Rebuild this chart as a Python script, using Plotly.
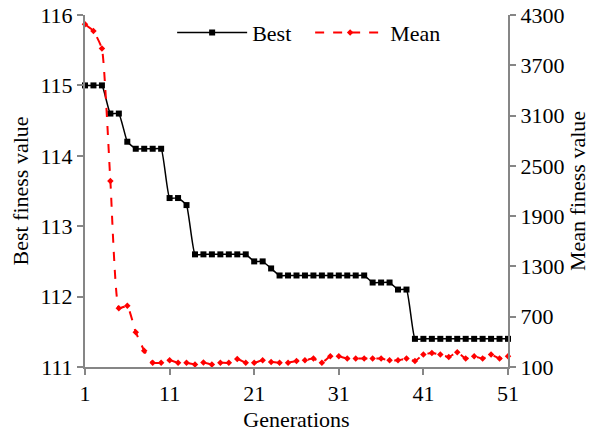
import plotly.graph_objects as go

generations = list(range(1, 52))
best = [115.0, 115.0, 115.0, 114.6, 114.6, 114.2, 114.1, 114.1, 114.1, 114.1,
        113.4, 113.4, 113.3, 112.6, 112.6, 112.6, 112.6, 112.6, 112.6, 112.6,
        112.5, 112.5, 112.4, 112.3, 112.3, 112.3, 112.3, 112.3, 112.3, 112.3,
        112.3, 112.3, 112.3, 112.3, 112.2, 112.2, 112.2, 112.1, 112.1, 111.4,
        111.4, 111.4, 111.4, 111.4, 111.4, 111.4, 111.4, 111.4, 111.4, 111.4, 111.4]
mean = [4190, 4110, 3900, 2320, 800, 830, 515, 295, 150, 150,
        180, 150, 150, 130, 155, 130, 150, 150, 195, 150,
        150, 180, 160, 150, 152, 172, 180, 200, 152, 228,
        228, 200, 200, 200, 200, 200, 180, 180, 200, 172,
        248, 268, 248, 220, 276, 200, 228, 200, 248, 200, 228]
x_ticks = [1, 11, 21, 31, 41, 51]
left_ticks = [111, 112, 113, 114, 115, 116]
right_ticks = [100, 700, 1300, 1900, 2500, 3100, 3700, 4300]

FONT = "Liberation Serif"
FS = 22
AX = "#868686"

fig = go.Figure()
fig.add_trace(go.Scatter(
    x=generations, y=best, name="Best", mode="lines+markers",
    line=dict(color="black", width=1.5, shape="spline", smoothing=0.4),
    marker=dict(symbol="square", size=6, color="black"),
    cliponaxis=False, yaxis="y"))
fig.add_trace(go.Scatter(
    x=generations, y=mean, name="Mean", mode="lines+markers",
    line=dict(color="#ff0000", width=2, dash="dash", shape="spline", smoothing=0.4),
    marker=dict(symbol="diamond", size=5, color="#ff0000"),
    cliponaxis=False, yaxis="y2"))

common = dict(showgrid=False, zeroline=False, showline=True, linecolor=AX, linewidth=2,
              ticks="outside", tickcolor=AX, ticklen=6, tickwidth=2,
              ticklabeloverflow="allow", automargin=False,
              tickfont=dict(family=FONT, size=FS, color="black"))

fig.update_layout(
    width=600, height=441,
    margin=dict(l=85, r=92, t=15, b=74),
    plot_bgcolor="white", paper_bgcolor="white",
    font=dict(family=FONT, size=FS, color="black"),
    xaxis=dict(range=[1, 51], tickvals=x_ticks,
               title=dict(text="Generations", font=dict(family=FONT, size=FS), standoff=6),
               **common),
    yaxis=dict(range=[111, 116], tickvals=left_ticks,
               title=dict(text="Best finess value", font=dict(family=FONT, size=FS), standoff=6),
               **common),
    yaxis2=dict(range=[100, 4300], tickvals=right_ticks, overlaying="y", side="right",
                title=dict(text="Mean finess value", font=dict(family=FONT, size=FS), standoff=6),
                **common),
    legend=dict(orientation="h", x=0.206, y=0.95, xanchor="left", yanchor="middle",
                bgcolor="rgba(0,0,0,0)", itemwidth=70, entrywidth=53,
                font=dict(family=FONT, size=FS)),
)
fig.write_html("out.html", config={"displayModeBar": False},
               post_script="document.body.style.margin='0';")
